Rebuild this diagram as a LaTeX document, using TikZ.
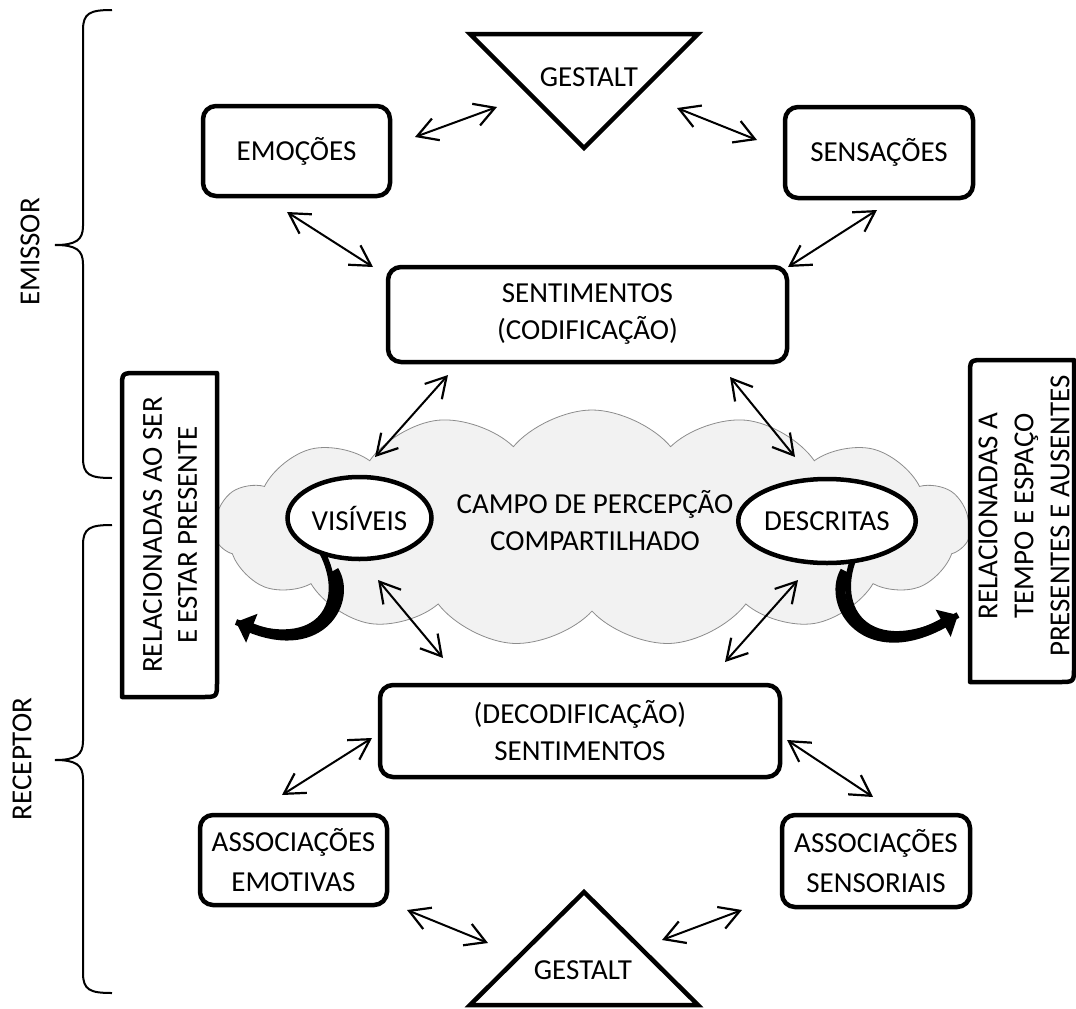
\documentclass[tikz,border=0pt]{standalone}
\usepackage{fontspec}
\setmainfont{Carlito}
\usetikzlibrary{arrows.meta,shapes.geometric,shapes.symbols}
\definecolor{cloudfill}{HTML}{F2F2F2}
\definecolor{cloudline}{HTML}{8C8C8C}
\begin{document}
\begin{tikzpicture}[x=1pt,y=-1pt,
  txt/.style={font=\fontsize{29}{37}\selectfont, align=center, inner sep=0pt},
  rbox/.style={txt, draw, line width=4.5pt, rounded corners=13pt, fill=white},
  oval/.style={txt, ellipse, draw, line width=4.5pt, fill=white},
  vtip/.tip={Straight Barb[length=20pt,width=23pt,line width=2.2pt]},
  bi/.style={line width=2pt, vtip-vtip},
  brace/.style={line width=2pt},
  thickline/.style={line width=4.5pt, line join=round}
]
\useasboundingbox (0,0) rectangle (1076,1009);

% cloud (background)
\node[cloud, draw=cloudline, line width=0.8pt, fill=cloudfill, cloud puffs=15, cloud puff arc=100,
      cloud ignores aspect, minimum width=756pt, minimum height=236pt] (cloud) at (592,528) {};
\node[txt] (campo) at (595,521) {CAMPO DE PERCEPÇÃO\\COMPARTILHADO};

% braces
\draw[brace] (112,10) .. controls (90,10) and (83,13) .. (83,30) -- (83,226)
  .. controls (83,240) and (76,245) .. (55,245) .. controls (76,245) and (83,250) .. (83,264)
  -- (83,458) .. controls (83,475) and (90,478) .. (112,478);
\draw[brace] (112,525) .. controls (90,525) and (83,528) .. (83,545) -- (83,741)
  .. controls (83,755) and (76,760) .. (55,760) .. controls (76,760) and (83,765) .. (83,779)
  -- (83,973) .. controls (83,990) and (90,993) .. (112,993);
\node[txt, rotate=90] (emissor) at (30,252) {EMISSOR};
\node[txt, rotate=90] (receptor) at (22,759) {RECEPTOR};

% triangles
\draw[line width=4.5pt, line join=miter] (470,34) -- (698,34) -- (584,148) -- cycle;
\node[txt] (g1) at (589,77) {GESTALT};
\draw[line width=4.5pt, line join=miter] (470,1005) -- (698,1005) -- (584,892) -- cycle;
\node[txt] (g2) at (583,970) {GESTALT};

% boxes
\node[rbox, minimum width=187pt, minimum height=90pt] (emo) at (296.5,151) {EMOÇÕES};
\node[rbox, minimum width=188pt, minimum height=91pt] (sens) at (879,152.5) {SENSAÇÕES};
\node[rbox, minimum width=399pt, minimum height=95pt] (sent) at (587.5,314.5) {SENTIMENTOS\\(CODIFICAÇÃO)};
\node[rbox, minimum width=400pt, minimum height=92pt] (dec) at (580,731) {(DECODIFICAÇÃO)\\SENTIMENTOS};
\node[rbox, minimum width=187pt, minimum height=90pt, font=\fontsize{29}{40}\selectfont] (aemo) at (293.5,860) {ASSOCIAÇÕES\\EMOTIVAS};
\node[rbox, minimum width=188pt, minimum height=92pt, font=\fontsize{29}{40}\selectfont] (asens) at (876,861) {ASSOCIAÇÕES\\SENSORIAIS};

% side boxes
\filldraw[fill=white, thickline] (122,697) -- (122,388) .. controls (122,373) .. (137,373) -- (217,373)
  -- (217,682) .. controls (217,697) .. (202,697) -- cycle;
\node[txt, rotate=90, font=\fontsize{29}{35}\selectfont] (lbox) at (170,535) {RELACIONADAS AO SER\\E ESTAR PRESENTE};
\filldraw[fill=white, thickline] (970,682) -- (970,375) .. controls (970,360) .. (985,360) -- (1074,360)
  -- (1074,667) .. controls (1074,682) .. (1059,682) -- cycle;
\node[txt, rotate=90, font=\fontsize{29}{36}\selectfont] (rbox) at (1024,516) {RELACIONADAS A\\TEMPO E ESPAÇO\\PRESENTES E AUSENTES};

% curved thick arrows (start hidden under the ellipses)
\coordinate (lcs) at (318,545);
\coordinate (lce) at (236,622);
\coordinate (rcs) at (860,545);
\coordinate (rce) at (958,615);
\draw[line width=6pt] (lcs) .. controls (352,600) and (322,656) .. (lce);
\draw[line width=10pt, shorten <=30pt, -{Triangle[length=17pt,width=30pt]}] (lcs) .. controls (352,600) and (322,656) .. (lce);
\draw[line width=6pt] (rcs) .. controls (826,605) and (866,666) .. (rce);
\draw[line width=10pt, shorten <=30pt, -{Triangle[length=17pt,width=30pt]}] (rcs) .. controls (826,605) and (866,666) .. (rce);

% ellipses
\node[oval, minimum width=144pt, minimum height=82pt] (vis) at (359.5,518) {VISÍVEIS};
\node[oval, minimum width=140pt, minimum height=84pt] (desc) at (827,521) {DESCRITAS};

% double arrows
\coordinate (a1a) at (415,137);  \coordinate (a1b) at (497,107);
\coordinate (a2a) at (677,108);  \coordinate (a2b) at (757,140);
\coordinate (a3a) at (287,212);  \coordinate (a3b) at (373,267);
\coordinate (a4a) at (877,210);  \coordinate (a4b) at (788,267);
\coordinate (a5a) at (448,375);  \coordinate (a5b) at (375,457);
\coordinate (a6a) at (730,377);  \coordinate (a6b) at (795,457);
\coordinate (a7a) at (378,580);  \coordinate (a7b) at (443,658);
\coordinate (a8a) at (798,580);  \coordinate (a8b) at (725,662);
\coordinate (a9a) at (372,738);  \coordinate (a9b) at (282,795);
\coordinate (a10a) at (787,740); \coordinate (a10b) at (873,797);
\coordinate (a11a) at (407,910); \coordinate (a11b) at (488,943);
\coordinate (a12a) at (662,940); \coordinate (a12b) at (742,910);
\foreach \i in {1,...,12} { \draw[bi] (a\i a) -- (a\i b); }
\end{tikzpicture}
\end{document}
